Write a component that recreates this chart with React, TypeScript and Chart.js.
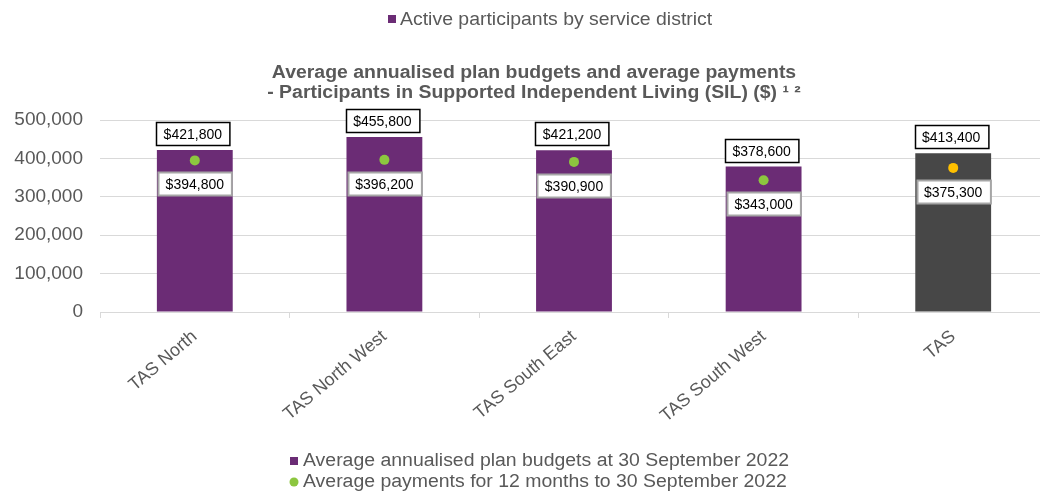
import React, { useEffect, useRef } from "react";
import { Chart, registerables } from "chart.js";

Chart.register(...registerables);

const categories = ["TAS North", "TAS North West", "TAS South East", "TAS South West", "TAS"];
const budgets = [421800, 455800, 421200, 378600, 413400];
const payments = [394800, 396200, 390900, 343000, 375300];
const barColors = ["#6B2C75", "#6B2C75", "#6B2C75", "#6B2C75", "#474747"];
const dotColors = ["#8CC63F", "#8CC63F", "#8CC63F", "#8CC63F", "#FFC000"];
const titleLines = [
  "Average annualised plan budgets and average payments",
  "- Participants in Supported Independent Living (SIL) ($) \u00B9 \u00B2",
];
const topLegendText = "Active participants by service district";
const seriesNames = [
  "Average annualised plan budgets at 30 September 2022",
  "Average payments for 12 months to 30 September 2022",
];
const yMax = 500000;
const yStep = 100000;

const FONT = "'Liberation Sans', Arial, sans-serif";
const GRAY = "#595959";
const SX = 1.08;

const fmtMoney = (v: number) => "$" + v.toLocaleString("en-US");

function stretchText(ctx: CanvasRenderingContext2D, text: string, x: number, y: number, align: "left" | "center") {
  ctx.save();
  ctx.translate(x, y);
  ctx.scale(SX, 1);
  ctx.textAlign = align;
  ctx.textBaseline = "middle";
  ctx.fillText(text, 0, 0);
  ctx.restore();
}

function drawBox(ctx: CanvasRenderingContext2D, cx: number, top: number, text: string, border: string, lw: number) {
  ctx.font = `14px ${FONT}`;
  const w = ctx.measureText(text).width + 15;
  const h = 23;
  const x = Math.round(cx - w / 2) + 0.5;
  const y = Math.round(top) + 0.5;
  ctx.fillStyle = "#ffffff";
  ctx.fillRect(x, y, w, h);
  ctx.strokeStyle = border;
  ctx.lineWidth = lw;
  ctx.strokeRect(x, y, w, h);
  ctx.fillStyle = "#000000";
  ctx.textAlign = "center";
  ctx.textBaseline = "middle";
  ctx.fillText(text, cx, y + h / 2 + 1);
}

const overlayPlugin = {
  id: "overlay",
  afterDatasetsDraw(chart: any) {
    const ctx: CanvasRenderingContext2D = chart.ctx;
    ctx.save();
    const barMeta = chart.getDatasetMeta(0);
    const dotMeta = chart.getDatasetMeta(1);
    barMeta.data.forEach((el: any, i: number) => {
      drawBox(ctx, el.x - 2, el.y - 28, fmtMoney(budgets[i]), "#000000", 1.5);
    });
    dotMeta.data.forEach((el: any, i: number) => {
      drawBox(ctx, el.x, el.y + 12, fmtMoney(payments[i]), "#A6A6A6", 2);
    });
    ctx.restore();
  },
  afterDraw(chart: any) {
    const ctx: CanvasRenderingContext2D = chart.ctx;
    ctx.save();
    // top legend
    ctx.font = `18px ${FONT}`;
    ctx.fillStyle = "#6B2C75";
    ctx.fillRect(388, 15, 8, 8);
    ctx.fillStyle = GRAY;
    stretchText(ctx, topLegendText, 400, 20, "left");

    // title
    ctx.font = `bold 18px ${FONT}`;
    ctx.fillStyle = GRAY;
    stretchText(ctx, titleLines[0], 534, 73, "center");
    stretchText(ctx, titleLines[1], 534, 93, "center");

    // bottom legend
    ctx.font = `18px ${FONT}`;
    const lx = 290;
    ctx.fillStyle = "#6B2C75";
    ctx.fillRect(lx, 457, 8, 8);
    ctx.fillStyle = GRAY;
    stretchText(ctx, seriesNames[0], lx + 13, 461, "left");
    ctx.fillStyle = "#8CC63F";
    ctx.beginPath();
    ctx.arc(lx + 4, 482, 4.5, 0, Math.PI * 2);
    ctx.fill();
    ctx.fillStyle = GRAY;
    stretchText(ctx, seriesNames[1], lx + 13, 482, "left");
    ctx.restore();
  },
};

export default function App() {
  const canvasRef = useRef<HTMLCanvasElement | null>(null);

  useEffect(() => {
    if (!canvasRef.current) return;
    const chart = new Chart(canvasRef.current, {
      type: "bar",
      data: {
        labels: categories,
        datasets: [
          {
            type: "bar",
            label: seriesNames[0],
            data: budgets,
            backgroundColor: barColors,
            barPercentage: 0.8,
            categoryPercentage: 0.5,
            order: 2,
          },
          {
            type: "line",
            label: seriesNames[1],
            data: payments,
            showLine: false,
            pointRadius: 5,
            pointHoverRadius: 5,
            pointBackgroundColor: dotColors,
            pointBorderColor: dotColors,
            pointBorderWidth: 0,
            order: 1,
          } as any,
        ],
      },
      options: {
        responsive: false,
        animation: false,
        layout: { padding: { top: 120, left: 0, right: 0, bottom: 52 } },
        plugins: {
          legend: { display: false },
          title: { display: false },
          tooltip: { enabled: false },
        },
        scales: {
          x: {
            offset: true,
            grid: {
              display: true,
              drawOnChartArea: false,
              offset: true,
              color: "#D9D9D9",
              tickLength: 6,
            },
            border: { color: "#D9D9D9", width: 1 },
            ticks: {
              color: GRAY,
              font: { family: FONT, size: 18 },
              maxRotation: 40,
              minRotation: 40,
              padding: 8,
            },
            afterFit: (scale: any) => {
              scale.height = 130;
            },
          },
          y: {
            min: 0,
            max: yMax,
            ticks: {
              stepSize: yStep,
              color: GRAY,
              font: { family: FONT, size: 19 },
              padding: 17,
              callback: (v: any) => Number(v).toLocaleString("en-US"),
            },
            grid: { color: "#D9D9D9", drawTicks: false },
            border: { display: false },
            afterFit: (scale: any) => {
              scale.width = 100;
            },
          },
        },
      },
      plugins: [overlayPlugin],
    });
    return () => chart.destroy();
  }, []);

  return (
    <div style={{ position: "absolute", left: 0, top: 0, width: 1040, height: 494, overflow: "hidden", background: "#fff" }}>
      <canvas ref={canvasRef} width={1053} height={494} style={{ display: "block" }} />
    </div>
  );
}
